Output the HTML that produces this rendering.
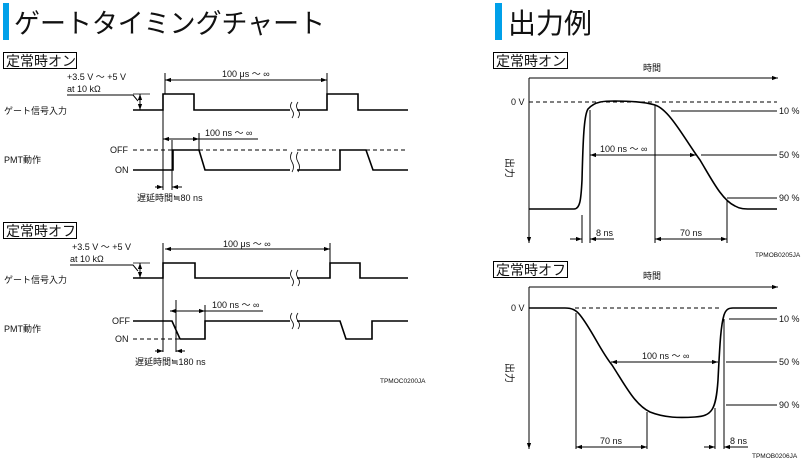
<!DOCTYPE html>
<html><head><meta charset="utf-8"><style>
html,body{margin:0;padding:0;background:#fff;}
svg{display:block;font-family:"Liberation Sans","Noto Sans CJK JP",sans-serif;}
</style></head><body>
<svg width="804" height="460" viewBox="0 0 804 460" xmlns="http://www.w3.org/2000/svg">
<defs>
<marker id="a" viewBox="0 0 10 10" refX="10" refY="5" markerWidth="6" markerHeight="6" orient="auto-start-reverse"><path d="M0,1.5L10,5L0,8.5z" fill="#000"/></marker>
</defs>
<!-- titles -->
<rect x="3" y="3" width="6" height="37" fill="#00a0e9"/>
<text x="14" y="33" font-size="27" fill="#111" textLength="311" lengthAdjust="spacingAndGlyphs">ゲートタイミングチャート</text>
<rect x="495" y="3" width="7" height="37" fill="#00a0e9"/>
<text x="508" y="33" font-size="28" fill="#111">出力例</text>

<g stroke="#000" fill="none" stroke-width="1">
<rect x="3.5" y="52.5" width="73" height="16"/>
<rect x="3.5" y="222.5" width="73" height="16"/>
<rect x="493.5" y="52.5" width="74" height="16"/>
<rect x="493.5" y="261.5" width="74" height="16"/>
</g>
<g font-size="14" fill="#111">
<text x="6" y="66">定常時オン</text>
<text x="6" y="236">定常時オフ</text>
<text x="496" y="66">定常時オン</text>
<text x="496" y="275">定常時オフ</text>
</g>

<!-- Left top chart -->
<g stroke="#000" fill="none" stroke-width="1">
<path d="M67,95H133L138,101"/>
<line x1="140" y1="94" x2="140" y2="110" marker-start="url(#a)" marker-end="url(#a)"/>
<line x1="133" y1="94" x2="150" y2="94" stroke-width="0.7"/>
<path d="M133,110H163V94H194V110H290M297,110H327V94H358V110H408" stroke-width="1.6"/>
<line x1="163" y1="98" x2="163" y2="190"/>
<line x1="172" y1="140" x2="172" y2="190"/>
<line x1="165" y1="73" x2="165" y2="94"/>
<line x1="327" y1="73" x2="327" y2="94"/>
<line x1="165" y1="80" x2="327" y2="80" marker-start="url(#a)" marker-end="url(#a)"/>
<path d="M133,150H173M199,150H290M297,150H340M366,150H408" stroke-dasharray="4,3"/>
<path d="M133,170H173V150H199L205,170H290M297,170H340V150H366L373,170H408" stroke-width="1.6"/>
<line x1="199" y1="133" x2="199" y2="150"/>
<line x1="163" y1="139" x2="199" y2="139" marker-start="url(#a)" marker-end="url(#a)"/>
<line x1="199" y1="139" x2="258" y2="139"/>
<line x1="155" y1="187" x2="163" y2="187" marker-end="url(#a)"/>
<line x1="182" y1="187" x2="172" y2="187" marker-end="url(#a)"/>
<path d="M292,102q-3,4 0,8q3,4 0,8M298,102q-3,4 0,8q3,4 0,8" stroke-width="0.8"/>
<path d="M292,152q-3,5 0,10q3,5 0,10M298,152q-3,5 0,10q3,5 0,10" stroke-width="0.8"/>
</g>
<g font-size="9" fill="#111">
<text x="67" y="80">+3.5 V 〜 +5 V</text>
<text x="67" y="92">at 10 kΩ</text>
<text x="4" y="114">ゲート信号入力</text>
<text x="222" y="77">100 μs 〜 ∞</text>
<text x="205" y="136">100 ns 〜 ∞</text>
<text x="110" y="153">OFF</text>
<text x="115" y="173">ON</text>
<text x="4" y="163">PMT動作</text>
<text x="137" y="201">遅延時間≒80 ns</text>
</g>

<!-- Left bottom chart -->
<g stroke="#000" fill="none" stroke-width="1">
<path d="M70,265H133L138,271"/>
<line x1="140" y1="263" x2="140" y2="278" marker-start="url(#a)" marker-end="url(#a)"/>
<line x1="133" y1="263" x2="150" y2="263" stroke-width="0.7"/>
<path d="M133,278H163V263H195V278H290M297,278H330V263H360V278H408" stroke-width="1.6"/>
<line x1="163" y1="243" x2="163" y2="352"/>
<line x1="176" y1="300" x2="176" y2="352"/>
<line x1="330" y1="243" x2="330" y2="263"/>
<line x1="165" y1="249" x2="330" y2="249" marker-start="url(#a)" marker-end="url(#a)"/>
<path d="M133,339H180" stroke-dasharray="4,3"/>
<path d="M133,321H172L180,339H205V321H290M297,321H340L346,339H372V321H408" stroke-width="1.6"/>
<line x1="205" y1="305" x2="205" y2="321"/>
<line x1="170" y1="311" x2="205" y2="311" marker-start="url(#a)" marker-end="url(#a)"/>
<line x1="205" y1="311" x2="263" y2="311"/>
<line x1="155" y1="351" x2="163" y2="351" marker-end="url(#a)"/>
<line x1="185" y1="351" x2="176" y2="351" marker-end="url(#a)"/>
<path d="M292,270q-3,4 0,8q3,4 0,8M298,270q-3,4 0,8q3,4 0,8" stroke-width="0.8"/>
<path d="M292,313q-3,4 0,8q3,4 0,8M298,313q-3,4 0,8q3,4 0,8" stroke-width="0.8"/>
</g>
<g font-size="9" fill="#111">
<text x="72" y="250">+3.5 V 〜 +5 V</text>
<text x="70" y="262">at 10 kΩ</text>
<text x="4" y="283">ゲート信号入力</text>
<text x="223" y="247">100 μs 〜 ∞</text>
<text x="212" y="308">100 ns 〜 ∞</text>
<text x="112" y="324">OFF</text>
<text x="115" y="342">ON</text>
<text x="4" y="332">PMT動作</text>
<text x="135" y="365">遅延時間≒180 ns</text>
<text x="380" y="383" font-size="6.5">TPMOC0200JA</text>
</g>

<!-- Right top -->
<g stroke="#000" fill="none" stroke-width="1">
<line x1="529" y1="78" x2="529" y2="243" marker-end="url(#a)"/>
<line x1="529" y1="78" x2="778" y2="78" marker-end="url(#a)"/>
<line x1="529" y1="102" x2="777" y2="102" stroke-dasharray="4,3"/>
<path d="M529,209H574C580,209 581,200 582,180C583,140 584,115 588,109C595,101 605,101 615,101C630,101 645,102 655,105C670,110 685,140 700,160C712,180 722,200 735,206C740,209 745,209 750,209H777" stroke-width="1.6"/>
<line x1="671" y1="111" x2="777" y2="111"/>
<line x1="701" y1="155" x2="777" y2="155"/>
<line x1="727" y1="198" x2="777" y2="198"/>
<line x1="590" y1="155" x2="696" y2="155" marker-start="url(#a)" marker-end="url(#a)"/>
<line x1="582" y1="215" x2="582" y2="243"/>
<line x1="590" y1="110" x2="590" y2="243"/>
<line x1="655" y1="105" x2="655" y2="243"/>
<line x1="727" y1="200" x2="727" y2="243"/>
<line x1="570" y1="239" x2="582" y2="239" marker-end="url(#a)"/>
<line x1="602" y1="239" x2="590" y2="239" marker-end="url(#a)"/>
<line x1="590" y1="239" x2="614" y2="239"/>
<line x1="655" y1="239" x2="727" y2="239" marker-start="url(#a)" marker-end="url(#a)"/>
</g>
<g font-size="9" fill="#111">
<text x="643" y="71">時間</text>
<text x="511" y="105">0 V</text>
<text x="779" y="114">10 %</text>
<text x="779" y="158">50 %</text>
<text x="779" y="201">90 %</text>
<text x="600" y="152">100 ns 〜 ∞</text>
<text x="596" y="236">8 ns</text>
<text x="680" y="236">70 ns</text>
<text x="755" y="257" font-size="6.5">TPMOB0205JA</text>
<text x="0" y="0" transform="translate(506,158) rotate(90)" font-size="10">出力</text>
</g>

<!-- Right bottom -->
<g stroke="#000" fill="none" stroke-width="1">
<line x1="529" y1="287" x2="529" y2="449" marker-end="url(#a)"/>
<line x1="529" y1="287" x2="778" y2="287" marker-end="url(#a)"/>
<line x1="575" y1="308" x2="722" y2="308" stroke-dasharray="4,3"/>
<path d="M529,308H565C572,308 576,310 580,315C592,330 600,350 612,365C625,385 635,405 650,412C665,418 680,418 695,417C712,416 716,410 718,380C720,340 721,325 724,315C726,309 729,308 733,308H777" stroke-width="1.6"/>
<line x1="729" y1="319" x2="777" y2="319"/>
<line x1="726" y1="362" x2="777" y2="362"/>
<line x1="726" y1="405" x2="777" y2="405"/>
<line x1="611" y1="362" x2="718" y2="362" marker-start="url(#a)" marker-end="url(#a)"/>
<line x1="576" y1="313" x2="576" y2="449"/>
<line x1="647" y1="412" x2="647" y2="449"/>
<line x1="715" y1="408" x2="715" y2="449"/>
<line x1="724" y1="319" x2="724" y2="449"/>
<line x1="576" y1="447" x2="647" y2="447" marker-start="url(#a)" marker-end="url(#a)"/>
<line x1="704" y1="447" x2="715" y2="447" marker-end="url(#a)"/>
<line x1="736" y1="447" x2="724" y2="447" marker-end="url(#a)"/>
<line x1="724" y1="447" x2="748" y2="447"/>
</g>
<g font-size="9" fill="#111">
<text x="643" y="279">時間</text>
<text x="511" y="311">0 V</text>
<text x="779" y="322">10 %</text>
<text x="779" y="365">50 %</text>
<text x="779" y="408">90 %</text>
<text x="642" y="359">100 ns 〜 ∞</text>
<text x="600" y="444">70 ns</text>
<text x="730" y="444">8 ns</text>
<text x="752" y="458" font-size="6.5">TPMOB0206JA</text>
<text x="0" y="0" transform="translate(506,363) rotate(90)" font-size="10">出力</text>
</g>
</svg>
</body></html>
